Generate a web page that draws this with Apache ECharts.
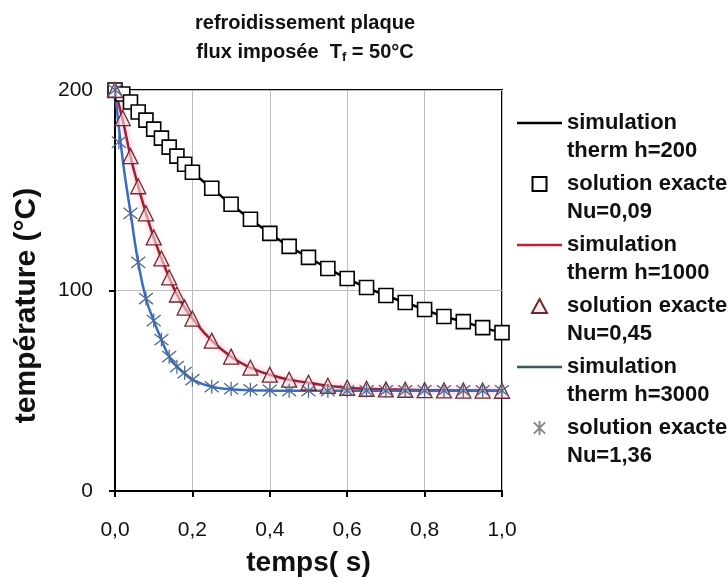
<!DOCTYPE html>
<html>
<head>
<meta charset="utf-8">
<script src="https://cdn.jsdelivr.net/npm/echarts@6/dist/echarts.min.js"></script>
<style>
  html, body { margin: 0; padding: 0; background: #fff; }
  #chart { width: 728px; height: 578px; }
</style>
</head>
<body>
<div id="chart"></div>
<script>
// temps (s)
var temps = [0, 0.02, 0.04, 0.06, 0.08, 0.1, 0.12, 0.14, 0.16, 0.18, 0.2,
  0.25, 0.3, 0.35, 0.4, 0.45, 0.5, 0.55, 0.6, 0.65, 0.7, 0.75, 0.8, 0.85, 0.9, 0.95, 1.0];
var tempsEtoile = [0, 0.01, 0.04, 0.06, 0.08, 0.1, 0.12, 0.14, 0.16, 0.18, 0.2,
  0.25, 0.3, 0.35, 0.4, 0.45, 0.5, 0.55, 0.6, 0.65, 0.7, 0.75, 0.8, 0.85, 0.9, 0.95, 1.0];

// simulation therm
var simH200 = [200, 198, 194, 189, 185, 180.5, 176, 171.5, 167, 163, 159,
  151, 143, 135.5, 128.5, 122, 116.5, 111, 106, 101.5, 97.5, 94, 90.5, 87, 84.5, 81.5, 79];
var simH1000 = [200, 185, 167, 152, 138.5, 126.5, 116, 106.5, 98, 91.5, 86,
  75, 67, 61.5, 58, 55.5, 54, 52.5, 51.5, 51, 50.7, 50.5, 50.3, 50.2, 50.1, 50.1, 50];
var simH3000 = [200, 165, 139, 114, 96, 85, 75.5, 67, 62, 58.5, 55.5,
  52, 50.8, 50.3, 50.1, 50, 50, 50, 50, 50, 50, 50, 50, 50, 50, 50, 50];

// solutions exactes
var exactNu009 = [200, 198, 194, 189, 185, 180.5, 176, 171.5, 167, 163, 159,
  151, 143, 135.5, 128.5, 122, 116.5, 111, 106, 101.5, 97.5, 94, 90.5, 87, 84.5, 81.5, 79];
var exactNu045 = [200, 186, 167, 152, 138.5, 126.5, 116, 106.5, 98, 91.5, 86,
  75, 67, 61.5, 58, 55.5, 54, 52.5, 51.5, 51, 50.7, 50.5, 50.3, 50.2, 50.1, 50.1, 50];
var exactNu136 = [200, 174, 138.5, 114, 96, 85, 75.5, 67, 62, 59, 55.5,
  52, 51, 50.5, 50.2, 50, 50, 50, 50, 50, 50, 50, 50, 50, 50, 50, 50];

var noms = ['simulation\ntherm h=200', 'solution exacte\nNu=0,09',
  'simulation\ntherm h=1000', 'solution exacte\nNu=0,45',
  'simulation\ntherm h=3000', 'solution exacte\nNu=1,36'];

function paires(xs, ys) {
  return xs.map(function (x, i) { return [x, ys[i]]; });
}

var police = '"Liberation Sans", Arial, sans-serif';
var etoile = 'path://M0,-10L0,10M-8,-8L8,8M-8,8L8,-8';
var iconeTrait = 'path://M0,0h45v2.5h-45z';
var iconeCarre = 'path://M0,0h13v13h-13z';
var iconeTriangle = 'path://M7,0L14,13L0,13Z';

var myChart = echarts.init(document.getElementById('chart'));

var option = {
  backgroundColor: '#fff',
  animation: false,
  title: {
    text: 'refroidissement plaque\nflux imposée  T{sub|f} = 50°C',
    left: 300,
    textAlign: 'center',
    top: 4,
    textStyle: {
      fontFamily: police, fontSize: 20, fontWeight: 'bold', color: '#111', lineHeight: 29,
      rich: {
        sub: { fontFamily: police, fontSize: 13, fontWeight: 'bold', color: '#111', padding: [9, 0, 0, 0] }
      }
    }
  },
  grid: {
    left: 115, right: 226, top: 90, bottom: 87,
    outerBoundsMode: 'none',
    show: true, borderColor: '#000', borderWidth: 2
  },
  legend: {
    orient: 'vertical',
    left: 512,
    top: 76,
    itemWidth: 45,
    itemHeight: 14,
    itemGap: -23,
    formatter: function (name) { return '\n' + name; },
    textStyle: { fontFamily: police, fontSize: 22, fontWeight: 'bold', color: '#111', lineHeight: 28 },
    data: [
      { name: noms[0], icon: iconeTrait },
      { name: noms[1], icon: iconeCarre },
      { name: noms[2], icon: iconeTrait },
      { name: noms[3], icon: iconeTriangle },
      { name: noms[4], icon: iconeTrait, itemStyle: { color: '#3d5a5a' } },
      { name: noms[5], itemStyle: { borderColor: '#888' } }
    ]
  },
  xAxis: {
    type: 'value', min: 0, max: 1, interval: 0.2,
    name: 'temps( s)', nameLocation: 'middle', nameGap: 58,
    nameTextStyle: { fontFamily: police, fontSize: 28, fontWeight: 'bold', color: '#111' },
    axisLine: { lineStyle: { color: '#000', width: 2 } },
    axisTick: { show: true, inside: false, length: 6, lineStyle: { color: '#000', width: 2 } },
    axisLabel: {
      fontFamily: police, fontSize: 21, color: '#111', margin: 29,
      formatter: function (v) { return v.toFixed(1).replace('.', ','); }
    },
    splitLine: { show: true, lineStyle: { color: '#bdbdbd', width: 1 } }
  },
  yAxis: {
    type: 'value', min: 0, max: 200, interval: 100,
    name: 'température (°C)', nameLocation: 'middle', nameGap: 73,
    nameTextStyle: { fontFamily: police, fontSize: 30, fontWeight: 'bold', color: '#111', padding: [0, 30, 0, 0] },
    axisLine: { show: true, lineStyle: { color: '#000', width: 2 } },
    axisTick: { show: true, inside: false, length: 6, lineStyle: { color: '#000', width: 2 } },
    axisLabel: { fontFamily: police, fontSize: 21, color: '#111', margin: 22 },
    splitLine: { show: true, lineStyle: { color: '#bdbdbd', width: 1 } }
  },
  series: [
    {
      name: noms[0], type: 'line', data: paires(temps, simH200), smooth: true,
      symbol: 'none', z: 3,
      lineStyle: { color: '#000', width: 2.5 }, itemStyle: { color: '#000' }
    },
    {
      name: noms[1], type: 'scatter', data: paires(temps, exactNu009),
      symbol: 'rect', symbolSize: 14, z: 4,
      itemStyle: { color: '#fff', borderColor: '#000', borderWidth: 1.6, opacity: 1 }
    },
    {
      name: noms[2], type: 'line', data: paires(temps, simH1000), smooth: true,
      symbol: 'none', z: 3,
      lineStyle: { color: '#a01c35', width: 2.5, shadowColor: 'rgba(240,130,150,0.8)', shadowBlur: 6 },
      itemStyle: { color: '#c0203a' }
    },
    {
      name: noms[3], type: 'scatter', data: paires(temps, exactNu045),
      symbol: 'triangle', symbolSize: 15, z: 4,
      itemStyle: { color: 'rgba(252,222,226,0.6)', borderColor: '#6e2a30', borderWidth: 1.3, opacity: 1 }
    },
    {
      name: noms[4], type: 'line', data: paires(temps, simH3000), smooth: true,
      symbol: 'none', z: 3,
      lineStyle: { color: '#3a6cc2', width: 2.5 }, itemStyle: { color: '#3a6cc2' }
    },
    {
      name: noms[5], type: 'scatter', data: paires(tempsEtoile, exactNu136),
      symbol: etoile, symbolSize: 14, z: 4,
      itemStyle: { color: 'none', borderColor: '#4d6a92', borderWidth: 1.3, opacity: 1 }
    }
  ]
};

myChart.setOption(option);
window.onresize = function () {
  myChart.resize();
};
</script>
</body>
</html>
